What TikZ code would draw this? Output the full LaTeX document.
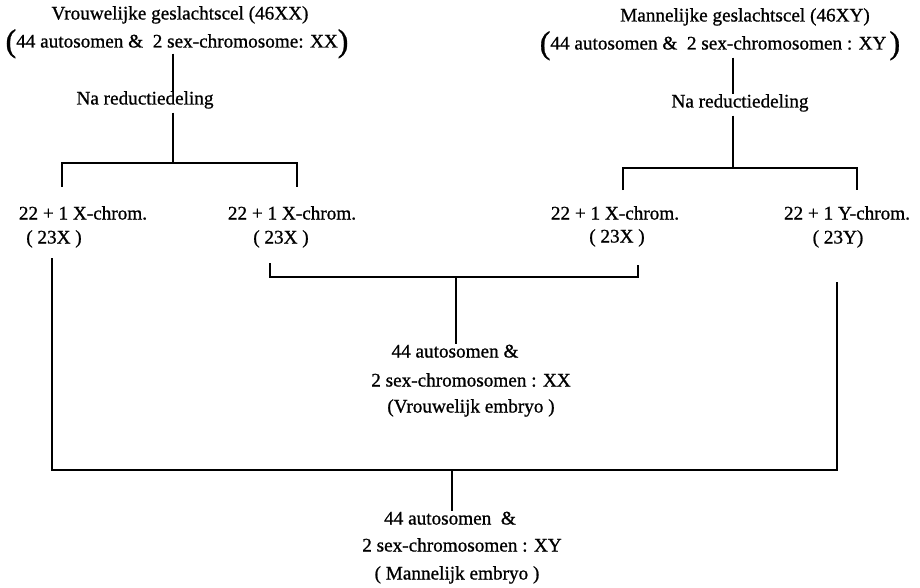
\documentclass[tikz,border=0pt]{standalone}
\usepackage{fontspec}
\setmainfont{Liberation Serif}[FakeBold=0.9]
\newcommand{\bigpl}{\smash{\raisebox{-4pt}{\fontsize{32}{32}\selectfont(}}}
\newcommand{\bigpr}{\smash{\raisebox{-4pt}{\fontsize{32}{32}\selectfont)}}}
\begin{document}
\begin{tikzpicture}[x=1pt,y=-1pt,
  txt/.style={inner sep=0pt, text height=13pt, text depth=4pt, font=\fontsize{19.2}{22}\selectfont},
  conn/.style={line width=1.7pt, line cap=butt, line join=miter}]
\useasboundingbox (0,0) rectangle (920,588);
% ---- left parent
\node[txt] (lt1) at (180,15) {Vrouwelijke geslachtscel (46XX)};
\node[txt] (lt2) at (177,43) {\bigpl 44 autosomen \&\ \ 2 sex-chromosome: XX\bigpr};
\node[txt] (lna) at (145,100) {Na reductiedeling};
\node[txt] (lc1a) at (83,215) {22 + 1 X-chrom.};
\node[txt] (lc1b) at (54,239) {( 23X )};
\node[txt] (lc2a) at (292,215) {22 + 1 X-chrom.};
\node[txt] (lc2b) at (281,239) {( 23X )};
% ---- right parent
\node[txt] (rt1) at (745,17) {Mannelijke geslachtscel (46XY)};
\node[txt] (rt2) at (720,45) {\bigpl 44 autosomen \&\ \ 2 sex-chromosomen : XY\,\bigpr};
\node[txt] (rna) at (740,103) {Na reductiedeling};
\node[txt] (rc1a) at (615,215) {22 + 1 X-chrom.};
\node[txt] (rc1b) at (617,238) {( 23X )};
\node[txt] (rc2a) at (847,215) {22 + 1 Y-chrom.};
\node[txt] (rc2b) at (838,239) {( 23Y)};
% ---- female embryo
\node[txt] (ex1) at (455,353) {44 autosomen \&};
\node[txt] (ex2) at (471,382) {2 sex-chromosomen : XX};
\node[txt] (ex3) at (471,408) {(Vrouwelijk embryo )};
% ---- male embryo
\node[txt] (ey1) at (450,520) {44 autosomen\ \ \&};
\node[txt] (ey2) at (462,547) {2 sex-chromosomen : XY};
\node[txt] (ey3) at (457,575) {( Mannelijk embryo )};
% ---- junction coordinates
\coordinate (lv) at (173,0);
\coordinate (jL) at (173,163);
\coordinate (tL1) at (62,187);
\coordinate (tL2) at (297,187);
\coordinate (rv) at (733,0);
\coordinate (jR) at (733,168);
\coordinate (tR1) at (623,190);
\coordinate (tR2) at (857,190);
\coordinate (mA) at (270,263);
\coordinate (mB) at (638,265);
\coordinate (mJ) at (456,277);
\coordinate (bA) at (52,258);
\coordinate (bB) at (837,282);
\coordinate (bJ) at (452,470);
% ---- connectors
\draw[conn] (lt2.south -| lv) ++(0,2) -- (lna.north -| lv);
\draw[conn] (lna.south -| lv) ++(0,4) -- (jL);
\draw[conn] (tL1) |- (jL) -| (tL2);
\draw[conn] (rt2.south -| rv) ++(0,4) -- (rna.north -| rv);
\draw[conn] (rna.south -| rv) ++(0,4) -- (jR);
\draw[conn] (tR1) |- (jR) -| (tR2);
\draw[conn] (mA) |- (mJ) -| (mB);
\draw[conn] (mJ) -- (ex1.north -| mJ);
\draw[conn] (bA) |- (bJ) -| (bB);
\draw[conn] (bJ) -- (ey1.north -| bJ);
\end{tikzpicture}
\end{document}
